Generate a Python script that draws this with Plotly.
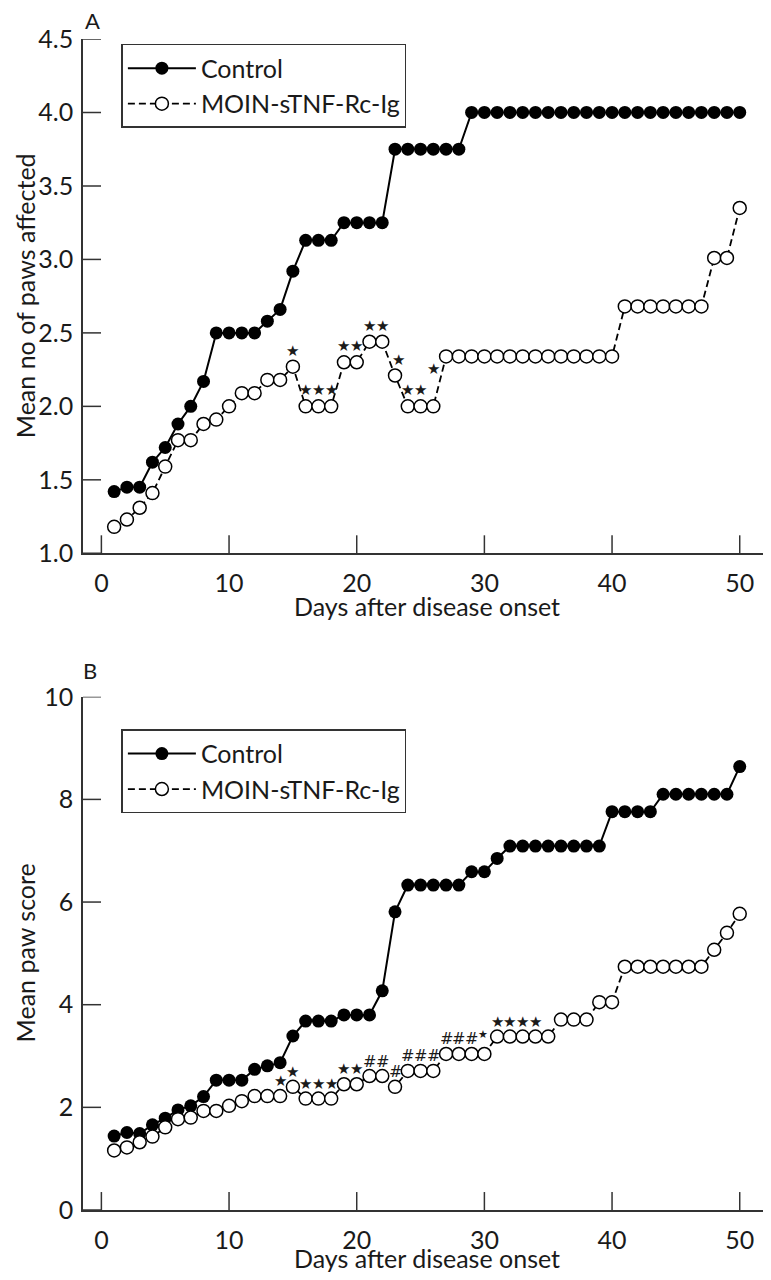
import plotly.graph_objects as go

days = list(range(1, 51))

# panel A: mean number of paws affected
ctrl_a = [1.42, 1.45, 1.45, 1.62, 1.72, 1.88, 2.0, 2.17, 2.5, 2.5,
          2.5, 2.5, 2.58, 2.66, 2.92, 3.13, 3.13, 3.13, 3.25, 3.25,
          3.25, 3.25] + [3.75] * 6 + [4.0] * 22
moin_a = [1.18, 1.23, 1.31, 1.41, 1.59, 1.77, 1.77, 1.88, 1.91, 2.0,
          2.09, 2.09, 2.18, 2.18, 2.27, 2.0, 2.0, 2.0, 2.3, 2.3,
          2.44, 2.44, 2.21, 2.0, 2.0, 2.0] + [2.34] * 14 + [2.68] * 7 + [3.01, 3.01, 3.35]

# panel B: mean paw score
ctrl_b = [1.44, 1.51, 1.49, 1.66, 1.79, 1.95, 2.03, 2.21, 2.53, 2.53,
          2.53, 2.74, 2.81, 2.87, 3.39, 3.68, 3.68, 3.68, 3.80, 3.80,
          3.80, 4.27, 5.81] + [6.33] * 5 + [6.59, 6.59, 6.85] + [7.09] * 8 + [7.76] * 4 + [8.10] * 6 + [8.64]
moin_b = [1.16, 1.22, 1.32, 1.43, 1.61, 1.77, 1.80, 1.93, 1.93, 2.03,
          2.12, 2.22, 2.22, 2.22, 2.40, 2.17, 2.17, 2.17, 2.45, 2.45,
          2.61, 2.61, 2.40] + [2.71] * 3 + [3.04] * 4 + [3.38] * 5 + [3.71] * 3 + [4.05] * 2 + [4.74] * 7 + [5.07, 5.40, 5.77]

# significance marks above the treated group
sig_a_days = [15, 16, 17, 18, 19, 20, 21, 22, 23, 24, 25, 26]
sig_a_marks = ["★"] * 12
sig_b_days = list(range(14, 35))
sig_b_marks = ["★"] * 7 + ["#"] * 9 + ["★"] * 5

x_ticks = [0, 10, 20, 30, 40, 50]
ya_ticks = [1.0, 1.5, 2.0, 2.5, 3.0, 3.5, 4.0, 4.5]
yb_ticks = [0, 2, 4, 6, 8, 10]

FONT = "Lato"
INK = "#1a1a1a"
AX = "#333333"
FS = 25

fig = go.Figure()


def add_pair(ctrl, moin, xa, ya, legend):
    fig.add_trace(go.Scatter(
        x=days, y=ctrl, name="Control", mode="lines+markers",
        line=dict(color="black", width=2),
        marker=dict(size=13, color="black"),
        xaxis=xa, yaxis=ya, legend=legend,
    ))
    fig.add_trace(go.Scatter(
        x=days, y=moin, name="MOIN-sTNF-Rc-Ig", mode="lines+markers",
        line=dict(color="black", width=1.8, dash="7px,4px"),
        marker=dict(size=13, color="white", line=dict(color="black", width=1.5)),
        xaxis=xa, yaxis=ya, legend=legend,
    ))


add_pair(ctrl_a, moin_a, "x", "y", "legend")
add_pair(ctrl_b, moin_b, "x2", "y2", "legend2")

# significance annotations
shift_a = {23: (3, 16), 26: (0, 37)}
for d, m in zip(sig_a_days, sig_a_marks):
    dx, dy = shift_a.get(d, (0, 16))
    fig.add_annotation(x=d, y=moin_a[d - 1], xref="x", yref="y", text=m,
                       showarrow=False, xshift=dx, yshift=dy,
                       font=dict(size=15, color=INK, family="DejaVu Sans"))
shift_b = {30: (-1, 19)}
for d, m in zip(sig_b_days, sig_b_marks):
    dx, dy = shift_b.get(d, (0, 15))
    size = 11 if d == 30 else (16 if m == "#" else 15)
    fig.add_annotation(x=d, y=moin_b[d - 1], xref="x2", yref="y2", text=m,
                       showarrow=False, xshift=dx, yshift=dy,
                       font=dict(size=size, color=INK, family="DejaVu Sans"))

# panel letters
for letter, lx, ly in [("A", 0.0141, 1.0154), ("B", 0.0097, 0.4611)]:
    fig.add_annotation(x=lx, y=ly, xref="paper", yref="paper", text=letter,
                       showarrow=False, xanchor="center", yanchor="middle",
                       font=dict(size=22, color=INK))

# axis titles
for xr, yr, ytitle, tshift in [("x", "y", "Mean no of paws affected", -53),
                               ("x2", "y2", "Mean paw score", -48)]:
    fig.add_annotation(x=0.5, y=0, xref=xr + " domain", yref=yr + " domain",
                       text="Days after disease onset", showarrow=False,
                       xanchor="center", yanchor="middle", yshift=tshift,
                       font=dict(size=FS, color=INK))
    fig.add_annotation(x=0, y=0.5, xref=xr + " domain", yref=yr + " domain",
                       text=ytitle, showarrow=False, textangle=-90,
                       xanchor="center", yanchor="middle", xshift=-58,
                       font=dict(size=FS, color=INK))

# inward tick marks drawn as short lines at the tick values (18 px long)
TICK_X = 18 / 514.3   # fraction of the y-domain height
TICK_Y = 18 / 687.7   # fraction of the x-domain width
for xr, yr, yt in [("x", "y", ya_ticks), ("x2", "y2", yb_ticks)]:
    for t in x_ticks:
        fig.add_shape(type="line", xref=xr, yref=yr + " domain",
                      x0=t, x1=t, y0=0, y1=TICK_X, layer="above",
                      line=dict(color=AX, width=1.5))
    for t in yt:
        fig.add_shape(type="line", xref=xr + " domain", yref=yr,
                      x0=0, x1=TICK_Y, y0=t, y1=t, layer="above",
                      line=dict(color=AX, width=1.5))

# axes carry line + labels; transparent outside ticks only space the labels
axis = dict(showline=True, linecolor=AX, linewidth=1.5, ticks="outside",
            tickcolor="rgba(0,0,0,0)", showgrid=False, zeroline=False,
            automargin=False, tickfont=dict(size=FS, color=INK))
xaxis = dict(axis, range=[-1.44, 52.45], tickvals=x_ticks, ticklen=7)

legend = dict(xanchor="left", yanchor="top", bordercolor=AX, borderwidth=1.5,
              bgcolor="white", font=dict(size=FS, color=INK), itemwidth=68,
              tracegroupgap=0)

# the page body adds an 8px margin, so the figure is 8px smaller on each side
fig.update_layout(
    width=763, height=1264, autosize=False,
    paper_bgcolor="white", plot_bgcolor="white",
    font=dict(family=FONT, color=INK),
    margin=dict(l=75, r=0, t=31, b=62),
    xaxis=dict(xaxis, domain=[0, 1], anchor="y"),
    yaxis=dict(axis, domain=[0.5608, 1], anchor="x", range=[1.0, 4.5],
               tickvals=ya_ticks, tickformat=".1f", ticklen=3),
    xaxis2=dict(xaxis, domain=[0, 1], anchor="y2"),
    yaxis2=dict(axis, domain=[0, 0.4383], anchor="x2", range=[0, 10],
                tickvals=yb_ticks, ticklen=3),
    legend=dict(legend, x=0.0558, y=0.9958),
    legend2=dict(legend, x=0.0558, y=0.4105),
)

fig.write_html("out.html")
